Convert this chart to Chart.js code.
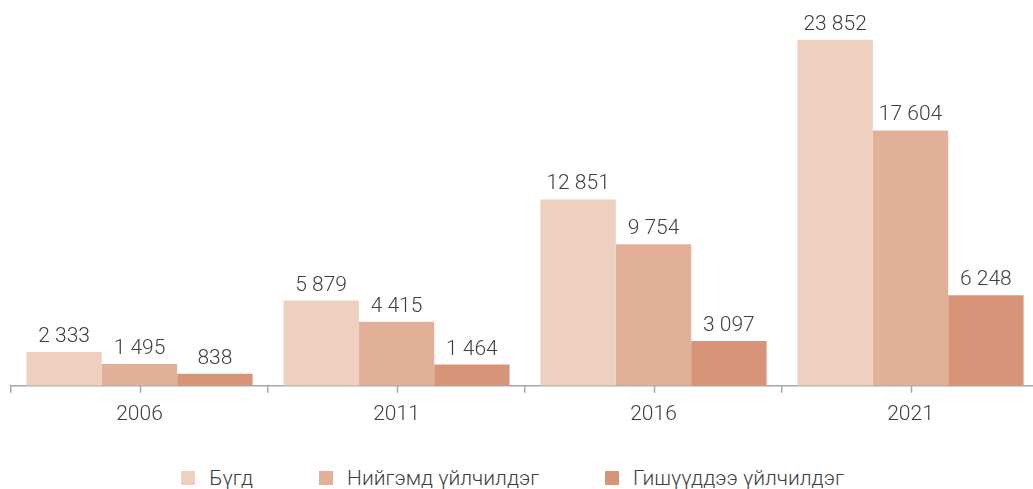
<!DOCTYPE html>
<html>
<head>
<meta charset="utf-8">
<script src="https://cdn.jsdelivr.net/npm/chart.js@4/dist/chart.umd.min.js"></script>
<style>
    body {
        margin: 0;
        width: 1033px;
        height: 489px;
        overflow: hidden;
        background: #fff;
        position: relative;
        font-family: Roboto, sans-serif;
    }

    #chart-box {
        position: absolute;
        left: 0;
        top: 0;
        width: 1045px;
        height: 436px;
    }

    #legend {
        position: absolute;
        left: 0;
        top: 466px;
        width: 1025px;
        display: flex;
        justify-content: center;
        gap: 66px;
        font-size: 21px;
        font-weight: 300;
        color: #404040;
    }

    .legend-item {
        display: flex;
        align-items: center;
    }

    .legend-box {
        width: 14px;
        height: 14px;
        margin-right: 14px;
    }
</style>
</head>
<body>
<div id="chart-box"><canvas id="myChart"></canvas></div>
<div id="legend"></div>

<script>
let years = ['2006', '2011', '2016', '2021'];
let seriesNames = ['Бүгд', 'Нийгэмд үйлчилдэг', 'Гишүүддээ үйлчилдэг'];
let total = [2333, 5879, 12851, 23852];
let social = [1495, 4415, 9754, 17604];
let members = [838, 1464, 3097, 6248];
let colors = ['#edd0bf', '#e2af98', '#d79479'];


function formatNumber(n) {
    return n.toString().replace(/\B(?=(\d{3})+(?!\d))/g, ' ');
}


// -------- ZAHLEN UEBER DEN BALKEN -------- //

const valueLabels = {
    id: 'valueLabels',
    afterDatasetsDraw(chart) {
        const ctx = chart.ctx;
        ctx.save();
        ctx.font = '300 21px Roboto';
        ctx.fillStyle = '#404040';
        ctx.textAlign = 'center';
        ctx.textBaseline = 'alphabetic';
        chart.data.datasets.forEach((ds, i) => {
            chart.getDatasetMeta(i).data.forEach((bar, j) => {
                ctx.fillText(formatNumber(ds.data[j]), bar.x, bar.y - 10);
            });
        });
        ctx.restore();
    }
};


// -------- STRICHE IN DER MITTE DER KATEGORIEN -------- //

const centerTicks = {
    id: 'centerTicks',
    afterDraw(chart) {
        const ctx = chart.ctx;
        const x = chart.scales.x;
        const bottom = chart.chartArea.bottom;
        ctx.save();
        ctx.strokeStyle = '#a6a6a6';
        ctx.lineWidth = 1.5;
        for (let i = 0; i < years.length; i++) {
            let px = Math.round(x.getPixelForValue(i)) + 0.5;
            ctx.beginPath();
            ctx.moveTo(px, bottom);
            ctx.lineTo(px, bottom + 7);
            ctx.stroke();
        }
        ctx.restore();
    }
};


const ctx = document.getElementById('myChart');

const chart = new Chart(ctx, {
    type: 'bar',
    data: {
        labels: years,
        datasets: [
            { label: seriesNames[0], data: total, backgroundColor: colors[0] },
            { label: seriesNames[1], data: social, backgroundColor: colors[1] },
            { label: seriesNames[2], data: members, backgroundColor: colors[2] }
        ]
    },
    options: {
        responsive: true,
        maintainAspectRatio: false,
        animation: false,
        datasets: {
            bar: {
                categoryPercentage: 0.88,
                barPercentage: 1
            }
        },
        layout: {
            padding: { left: 11, right: 6, top: 0, bottom: 0 }
        },
        scales: {
            y: {
                display: false,
                min: 0,
                max: 26600
            },
            x: {
                grid: {
                    offset: true,
                    drawOnChartArea: false,
                    drawTicks: true,
                    tickLength: 7,
                    color: '#a6a6a6',
                    lineWidth: 1.5
                },
                border: {
                    color: '#a6a6a6',
                    width: 1.5
                },
                ticks: {
                    color: '#404040',
                    padding: 9,
                    font: { family: 'Roboto', size: 21, weight: 300 }
                }
            }
        },
        plugins: {
            legend: { display: false },
            tooltip: { enabled: false }
        }
    },
    plugins: [valueLabels, centerTicks]
});


// -------- LEGENDE -------- //

function renderLegend() {
    let html = '';
    chart.data.datasets.forEach(ds => {
        html += `<div class="legend-item"><div class="legend-box" style="background:${ds.backgroundColor}"></div>${ds.label}</div>`;
    });
    document.getElementById('legend').innerHTML = html;
}

renderLegend();
</script>
</body>
</html>
